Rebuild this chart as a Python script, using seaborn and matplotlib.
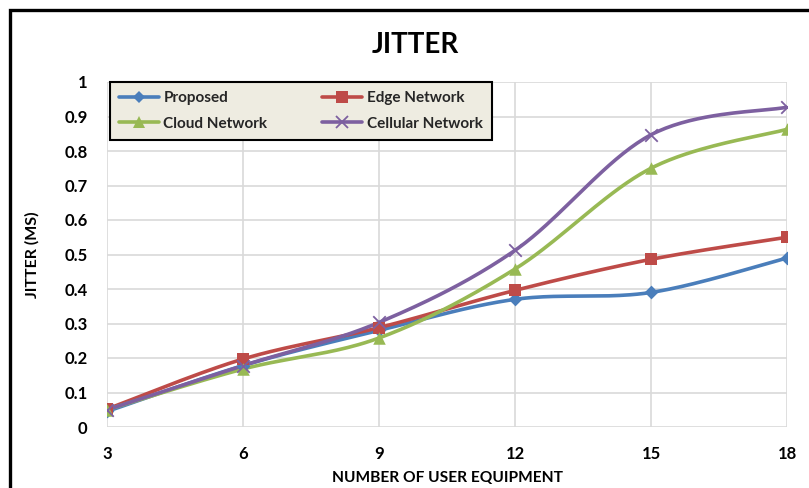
import numpy as np
import pandas as pd
import matplotlib
matplotlib.use("Agg")
import matplotlib.pyplot as plt
from matplotlib.lines import Line2D
from matplotlib.patches import Rectangle
import seaborn as sns

# Data
user_equipment = [3, 6, 9, 12, 15, 18]
proposed = [0.045, 0.178, 0.280, 0.370, 0.390, 0.490]
edge_network = [0.052, 0.197, 0.288, 0.396, 0.486, 0.550]
cloud_network = [0.050, 0.168, 0.258, 0.458, 0.750, 0.863]
cellular_network = [0.050, 0.178, 0.303, 0.512, 0.847, 0.927]

series_names = ["Proposed", "Edge Network", "Cloud Network", "Cellular Network"]
series_values = [proposed, edge_network, cloud_network, cellular_network]
y_tick_values = [0, 0.1, 0.2, 0.3, 0.4, 0.5, 0.6, 0.7, 0.8, 0.9, 1]
y_tick_labels = ["0", "0.1", "0.2", "0.3", "0.4", "0.5", "0.6", "0.7", "0.8", "0.9", "1"]
x_tick_labels = ["3", "6", "9", "12", "15", "18"]

colors = ["#4A7EBB", "#BE4B48", "#98B954", "#7D60A0"]
markers = ["D", "s", "^", "x"]
marker_sizes = [7, 9, 9, 9]

sns.set_theme(style="white")
plt.rcParams["font.family"] = ["Lato", "DejaVu Sans"]
plt.rcParams["font.weight"] = "bold"


def smooth_curve(xs, ys, n=40):
    """Catmull-Rom style Bezier smoothing through every point."""
    pts = np.column_stack([xs, ys]).astype(float)
    ext = np.vstack([pts[0], pts, pts[-1]])
    out = []
    t = np.linspace(0, 1, n)[:, None]
    for i in range(1, len(ext) - 2):
        p0, p1, p2, p3 = ext[i - 1], ext[i], ext[i + 1], ext[i + 2]
        c1 = p1 + (p2 - p0) / 6.0
        c2 = p2 - (p3 - p1) / 6.0
        seg = ((1 - t) ** 3) * p1 + 3 * ((1 - t) ** 2) * t * c1 + 3 * (1 - t) * t ** 2 * c2 + t ** 3 * p2
        out.append(seg if i == 1 else seg[1:])
    out = np.vstack(out)
    return out[:, 0], out[:, 1]


fig = plt.figure(figsize=(8.09, 4.88), dpi=100)
ax = fig.add_axes([107 / 809, 1 - 427 / 488, 680 / 809, 345 / 488])

# Outer chart frame (continues past the right and bottom edges)
fig.patches.append(Rectangle((10 / 809, -0.1), 1.2, 1 - 10 / 488 + 0.1,
                             transform=fig.transFigure, fill=False,
                             edgecolor="black", linewidth=2.4, zorder=0))

handles = []
for name, vals, col, mk, ms in zip(series_names, series_values, colors, markers, marker_sizes):
    sx, sy = smooth_curve(user_equipment, vals)
    curve = pd.DataFrame({"x": sx, "y": sy})
    sns.lineplot(data=curve, x="x", y="y", sort=False, color=col, linewidth=2.6,
                 ax=ax, estimator=None, zorder=3)
    pts = pd.DataFrame({"x": user_equipment, "y": vals})
    if mk == "x":
        sns.scatterplot(data=pts, x="x", y="y", marker="x", s=ms ** 2, color=col,
                        linewidth=1.3, ax=ax, zorder=4)
    else:
        sns.scatterplot(data=pts, x="x", y="y", marker=mk, s=ms ** 2, color=col,
                        edgecolor=col, linewidth=0, ax=ax, zorder=4)
    handles.append(Line2D([0], [0], color=col, linewidth=2.6, marker=mk,
                          markersize=ms * 0.9, markeredgewidth=1.3 if mk == "x" else 0,
                          markerfacecolor=col, markeredgecolor=col, label=name))

ax.set_xlim(3, 18)
ax.set_ylim(0, 1)
ax.set_xticks(user_equipment)
ax.set_xticklabels(x_tick_labels)
ax.set_yticks(y_tick_values)
ax.set_yticklabels(y_tick_labels)
ax.tick_params(axis="both", length=0, labelsize=12)
ax.tick_params(axis="x", pad=14)
ax.tick_params(axis="y", pad=14)
for lbl in ax.get_xticklabels() + ax.get_yticklabels():
    lbl.set_fontweight("bold")
    lbl.set_color("black")

ax.grid(True, color="#D9D9D9", linewidth=1.2)
ax.set_axisbelow(True)
for sp in ax.spines.values():
    sp.set_visible(False)

ax.set_xlabel("NUMBER OF USER EQUIPMENT", fontsize=11.2, fontweight="bold", color="black", labelpad=6)
ax.set_ylabel("JITTER (MS)", fontsize=11.5, fontweight="bold", color="black", labelpad=18)
fig.text(415 / 809, 1 - 45 / 488, "JITTER", ha="center", va="center",
         fontsize=20, fontweight="bold", color="black")

# Row-wise legend order: Proposed / Edge on top, Cloud / Cellular below
order = [0, 2, 1, 3]
leg = ax.legend([handles[i] for i in order], [series_names[i] for i in order],
                ncol=2, loc="upper left", bbox_to_anchor=(3 / 680, 1.0),
                frameon=True, fancybox=False, fontsize=11, handlelength=2.6,
                handletextpad=0.3, columnspacing=3.6, borderpad=0.6, labelspacing=0.75,
                borderaxespad=0)
frame = leg.get_frame()
frame.set_facecolor("#EEECE1")
frame.set_edgecolor("black")
frame.set_linewidth(1.5)
frame.set_alpha(1)
for txt in leg.get_texts():
    txt.set_fontweight("bold")
leg.set_zorder(10)

fig.savefig("out.png", dpi=100)
